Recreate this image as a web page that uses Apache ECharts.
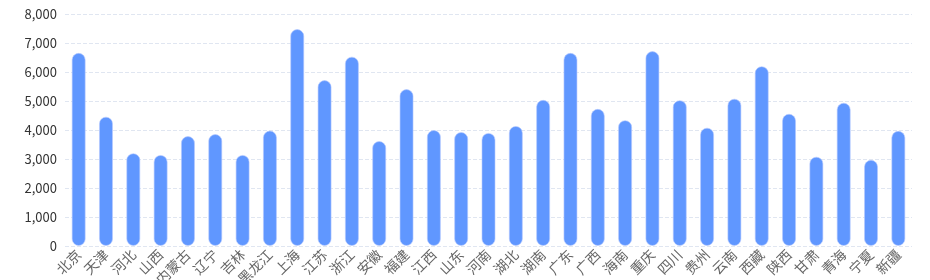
<!DOCTYPE html>
<html>
<head>
<meta charset="utf-8">
<script src="https://cdn.jsdelivr.net/npm/echarts@6/dist/echarts.min.js"></script>
<style>html,body{margin:0;padding:0;background:#fff;}#c{width:930px;height:280px;}</style>
</head>
<body>
<div id="c"></div>
<script>
var categories = ['北京','天津','河北','山西','内蒙古','辽宁','吉林','黑龙江','上海','江苏','浙江','安徽','福建','江西','山东','河南','湖北','湖南','广东','广西','海南','重庆','四川','贵州','云南','西藏','陕西','甘肃','青海','宁夏','新疆'];
var values = [6660,4460,3200,3140,3790,3860,3140,3980,7480,5720,6530,3620,5410,4000,3930,3900,4140,5040,6660,4730,4340,6720,5030,4080,5080,6200,4560,3080,4940,2970,3970];
var yTicks = {min: 0, max: 8000, interval: 1000};

var chart = echarts.init(document.getElementById('c'));
chart.setOption({
  animation: false,
  grid: {left: 65, right: 18, top: 14, bottom: 34, containLabel: false, outerBoundsMode: 'none'},
  xAxis: {
    type: 'category',
    data: categories,
    axisLine: {show: false},
    axisTick: {show: false},
    axisLabel: {rotate: 45, color: '#666', fontSize: 14, margin: 6, interval: 0, fontFamily: 'Noto Sans CJK SC'}
  },
  yAxis: {
    type: 'value',
    min: yTicks.min, max: yTicks.max, interval: yTicks.interval,
    axisLine: {show: false},
    axisTick: {show: false},
    axisLabel: {color: '#333', fontSize: 13, margin: 8, fontFamily: 'Noto Sans CJK SC',
      formatter: function (v) { return v.toLocaleString('en-US'); }},
    splitLine: {lineStyle: {type: 'dashed', color: '#e0e6f1'}}
  },
  series: [{
    type: 'bar',
    data: values,
    barWidth: 14,
    itemStyle: {color: '#6097ff', borderRadius: 7, borderColor: 'rgba(180,200,255,0.6)', borderWidth: 1}
  }]
});
</script>
</body>
</html>
